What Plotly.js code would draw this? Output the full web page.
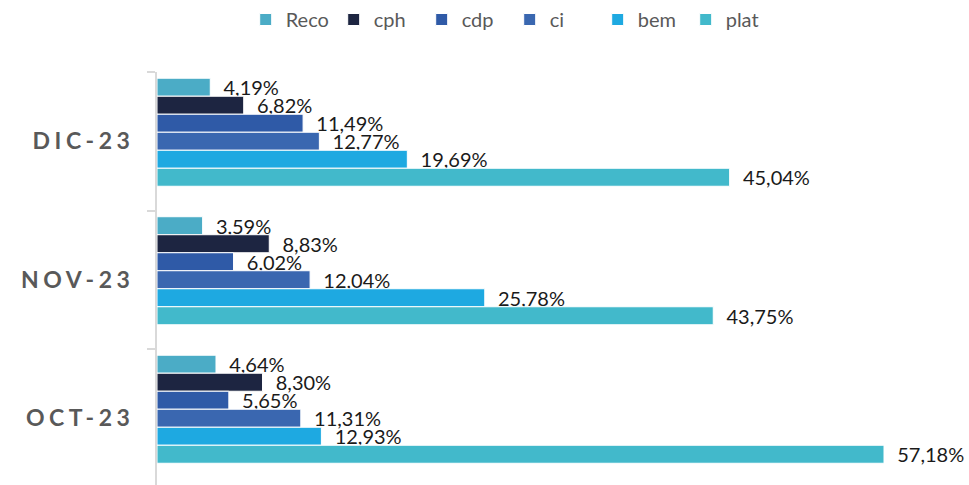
<!DOCTYPE html>
<html>
<head>
<meta charset="utf-8">
<script src="https://cdn.plot.ly/plotly-3.0.1.min.js"></script>
<style>
  html, body { margin: 0; padding: 0; background: #fff; }
  #chart { width: 969px; height: 485px; }
  .ytick text { letter-spacing: 4.5px !important; }
</style>
</head>
<body>
<div id="chart"></div>
<script>
// Categories (bottom to top)
const categories = ['OCT-23', 'NOV-23', 'DIC-23'];

// Series values (%) in category order: OCT-23, NOV-23, DIC-23
const seriesNames = ['Reco', 'cph', 'cdp', 'ci', 'bem', 'plat'];
const reco = [4.64, 3.59, 4.19];
const cph  = [8.30, 8.83, 6.82];
const cdp  = [5.65, 6.02, 11.49];
const ci   = [11.31, 12.04, 12.77];
const bem  = [12.93, 25.78, 19.69];
const plat = [57.18, 43.75, 45.04];

const seriesValues = [reco, cph, cdp, ci, bem, plat];
const colors = ['#4BACC6', '#1D2541', '#2F5AA7', '#3A67B0', '#1EA9E1', '#42B9CB'];

const barW = 0.13;
const topOffset = 0.325;

const traces = seriesNames.map((name, i) => ({
  type: 'bar',
  orientation: 'h',
  name: name,
  y: categories,
  x: seriesValues[i],
  width: barW,
  offset: topOffset - i * barW,
  marker: { color: colors[i], line: { color: '#ffffff', width: 1 } },
  texttemplate: '\u00a0\u00a0%{x:.2f}%',
  textposition: 'outside',
  constraintext: 'none',
  cliponaxis: false,
  textfont: { family: 'Lato, sans-serif', size: 20, color: '#1a1a1a' },
  hoverinfo: 'none'
}));

const layout = {
  width: 969,
  height: 485,
  margin: { l: 157, r: 11, t: 72, b: 0 },
  paper_bgcolor: '#ffffff',
  plot_bgcolor: '#ffffff',
  barmode: 'overlay',
  separators: ',.',
  showlegend: true,
  legend: {
    orientation: 'h',
    xref: 'container', yref: 'container',
    x: 0.526, xanchor: 'center',
    y: 1.0, yanchor: 'top',
    itemwidth: 30,
    entrywidthmode: 'pixels',
    entrywidth: 43,
    font: { family: 'Lato, sans-serif', size: 20, color: '#595959' },
    traceorder: 'normal'
  },
  xaxis: {
    range: [0, 63],
    showgrid: false,
    zeroline: false,
    showticklabels: false,
    showline: false,
    ticks: ''
  },
  yaxis: {
    type: 'category',
    range: [-0.482, 2.5],
    showgrid: false,
    zeroline: false,
    showline: true,
    linecolor: '#D9D9D9',
    linewidth: 2,
    ticks: 'outside',
    tickson: 'boundaries',
    ticklen: 8,
    tickcolor: '#D9D9D9',
    tickwidth: 2,
    ticklabelstandoff: 16,
    tickfont: { family: 'Lato, sans-serif', size: 23, color: '#595959', weight: 'bold' }
  }
};

Plotly.newPlot('chart', traces, layout, { displayModeBar: false, staticPlot: true });
</script>
</body>
</html>
